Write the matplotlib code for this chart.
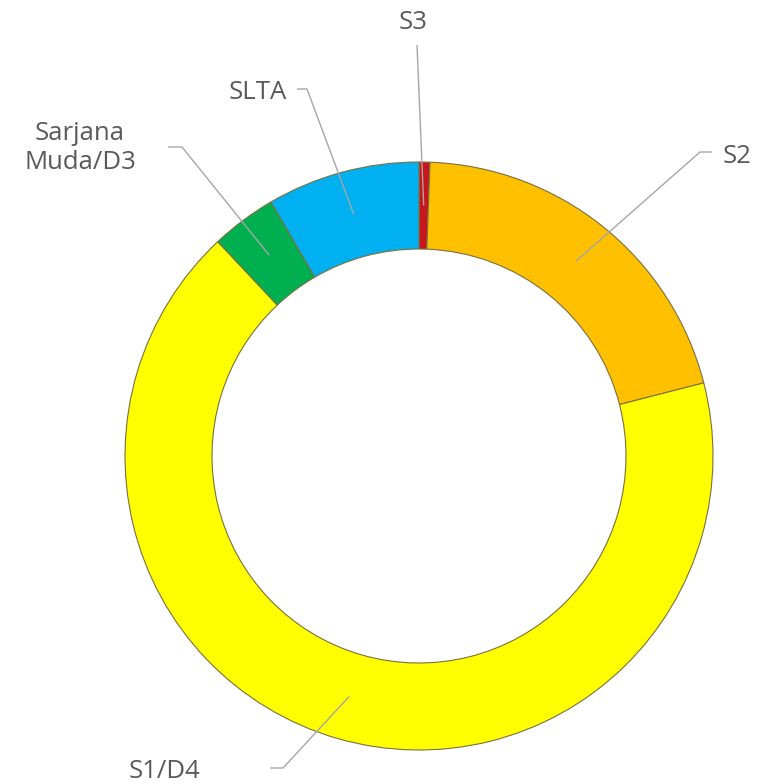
import matplotlib
matplotlib.use("Agg")
import matplotlib.pyplot as plt
import numpy as np

# ---- data (percent of total) ----
categories = ["S3", "S2", "S1/D4", "Sarjana\nMuda/D3", "SLTA"]
values = [0.6, 20.4, 67.0, 3.6, 8.4]
colors = ["#C8161D", "#FFC000", "#FFFF00", "#00B050", "#00B0F0"]

# ---- layout (pixel coords, y measured from top) ----
text_pos = [(413, 22), (737, 156), (164, 771), (80, 148), (258, 92)]
leader_start = [(417, 45), (712, 152), (270, 768), (168, 147), (297, 89)]
leader_elbow = [None, (700, 152), (283, 768), (182, 147), (307, 89)]

W, H = 759, 784
fig = plt.figure(figsize=(W / 100, H / 100), dpi=100)
ax = fig.add_axes([0, 0, 1, 1])

cx, cy = 419, H - 456
R, ring = 294, 87
wedges, _ = ax.pie(values, colors=colors, startangle=90, counterclock=False,
                   radius=R, center=(cx, cy),
                   wedgeprops=dict(width=ring, edgecolor="#7a7040", linewidth=0.8))
ax.set_xlim(0, W)
ax.set_ylim(0, H)
ax.set_aspect("equal")
ax.axis("off")

rmid = R - ring / 2
for w, lab, tp, ls, le in zip(wedges, categories, text_pos, leader_start, leader_elbow):
    mid = np.deg2rad((w.theta1 + w.theta2) / 2)
    ex, ey = cx + rmid * np.cos(mid), cy + rmid * np.sin(mid)
    xs = [ls[0]]
    ys = [H - ls[1]]
    if le is not None:
        xs.append(le[0])
        ys.append(H - le[1])
    xs.append(ex)
    ys.append(ey)
    ax.plot(xs, ys, color="#A6A6A6", lw=1.0, solid_capstyle="butt")
    ax.text(tp[0], H - tp[1], lab, ha="center", va="center", fontsize=18.5,
            family="Open Sans", color="#595959", linespacing=1.25)

fig.savefig("out.png", dpi=100, facecolor="white")
